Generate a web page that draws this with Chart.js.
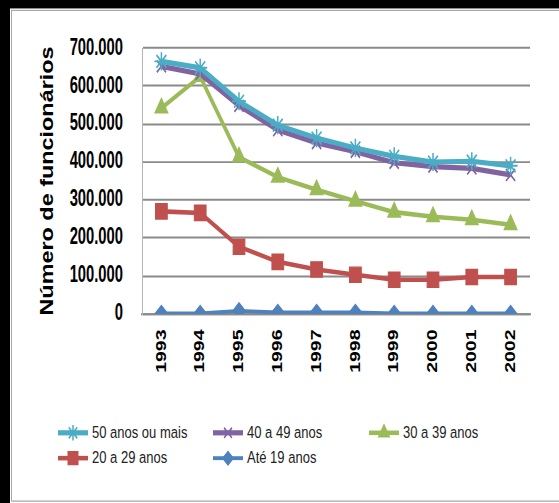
<!DOCTYPE html>
<html>
<head>
<meta charset="utf-8">
<script src="https://cdn.jsdelivr.net/npm/chart.js@4.4.1/dist/chart.umd.min.js"></script>
<style>
  html { overflow: hidden; background: #fff; }
  body { margin: 0; padding: 0; background: #fff; }
  #funcChart { display: block; background: #fff; }
</style>
</head>
<body>
<canvas id="funcChart" width="559" height="387"></canvas>
<script>
const years = ['1993', '1994', '1995', '1996', '1997', '1998', '1999', '2000', '2001', '2002'];
const seriesLabels = ['50 anos ou mais', '40 a 49 anos', '30 a 39 anos', '20 a 29 anos', 'Até 19 anos'];
const ages50plus = [665000, 648000, 560000, 497000, 463000, 437000, 415000, 400000, 402000, 390000];
const ages40to49 = [652000, 632000, 548000, 484000, 450000, 427000, 398000, 388000, 383000, 366000];
const ages30to39 = [542000, 625000, 413000, 360000, 327000, 297000, 268000, 256000, 248000, 235000];
const ages20to29 = [270000, 266000, 177000, 137000, 117000, 103000, 90000, 90000, 97000, 97000];
const agesTo19 = [1000, 1000, 8000, 4000, 4000, 4000, 1000, 1000, 1000, 1000];
const yTicks = [0, 100000, 200000, 300000, 400000, 500000, 600000, 700000];

const sansFont = '"Liberation Sans", Arial, sans-serif';
const outHeight = 503;   // the layout is done at 387 and drawn stretched to 503

function fmtThousands(v) {
    return String(v).replace(/\B(?=(\d{3})+(?!\d))/g, '.');
}

function makeSeries(label, data, color, style, radius, lineW) {
    return {
        label: label,
        data: data,
        borderColor: color,
        backgroundColor: color,
        borderWidth: lineW,
        pointStyle: style,
        pointRadius: radius,
        pointBorderWidth: (style === 'star' || style === 'crossRot') ? 1.5 : 1,
        pointBorderColor: color,
        pointBackgroundColor: color,
        tension: 0
    };
}

// white page with the black/grey frame
const framePlugin = {
    id: 'framePlugin',
    beforeDraw(chart) {
        const { ctx, width, height } = chart;
        ctx.save();
        ctx.fillStyle = '#fff';
        ctx.fillRect(0, 0, width, height);
        ctx.fillStyle = '#000';
        ctx.fillRect(0, 0, width, 6.5);
        ctx.fillRect(0, 0, 10, height);
        ctx.strokeStyle = '#a6a6a6';
        ctx.lineWidth = 1;
        ctx.beginPath();
        ctx.moveTo(11.5, height - 1.5);
        ctx.lineTo(11.5, 8);
        ctx.lineTo(width, 8);
        ctx.moveTo(11.5, height - 1.5);
        ctx.lineTo(width, height - 1.5);
        ctx.stroke();
        ctx.restore();
    }
};

// y tick labels in a narrow bold face (Arial Narrow look), placed by the y scale
const narrowTicksPlugin = {
    id: 'narrowTicksPlugin',
    afterDraw(chart) {
        const yScale = chart.scales.y;
        const ctx = chart.ctx;
        const squeeze = 0.82;
        const rightX = yScale.right - 19;
        ctx.save();
        ctx.font = 'bold 18px ' + sansFont;
        ctx.fillStyle = '#000';
        ctx.textAlign = 'right';
        ctx.textBaseline = 'middle';
        yScale.ticks.forEach(t => {
            const py = yScale.getPixelForValue(t.value);
            ctx.save();
            ctx.translate(rightX, py);
            ctx.scale(squeeze, 1);
            ctx.fillText(fmtThousands(t.value), 0, 0);
            ctx.restore();
        });
        ctx.restore();
    }
};

// excel-like legend: line with marker, 3 columns
const legendPlugin = {
    id: 'legendPlugin',
    afterDraw(chart) {
        const ctx = chart.ctx;
        const cols = [58, 213, 369];
        const rows = [333, 352.5];
        ctx.save();
        ctx.font = '13px ' + sansFont;
        ctx.textBaseline = 'middle';
        chart.data.datasets.forEach((ds, i) => {
            const x = cols[i % 3];
            const y = rows[Math.floor(i / 3)];
            ctx.strokeStyle = ds.borderColor;
            ctx.lineWidth = ds.borderWidth;
            ctx.beginPath();
            ctx.moveTo(x, y);
            ctx.lineTo(x + 30, y);
            ctx.stroke();
            ctx.fillStyle = ds.pointBackgroundColor;
            ctx.strokeStyle = ds.pointBorderColor;
            ctx.lineWidth = ds.pointBorderWidth;
            Chart.helpers.drawPoint(ctx, {
                pointStyle: ds.pointStyle,
                radius: ds.pointRadius * 0.85,
                borderWidth: ds.pointBorderWidth,
                rotation: 0
            }, x + 15, y);
            ctx.fillStyle = '#222';
            ctx.fillText(ds.label, x + 34, y + 0.5);
        });
        ctx.restore();
    }
};

const canvas = document.getElementById('funcChart');
// software canvas
const ctx = canvas.getContext('2d', { willReadFrequently: true, alpha: false });
const chart = new Chart(ctx, {
    type: 'line',
    data: {
        labels: years,
        datasets: [
            makeSeries(seriesLabels[0], ages50plus, '#4BACC6', 'star', 7, 4),
            makeSeries(seriesLabels[1], ages40to49, '#8064A2', 'crossRot', 6.5, 4),
            makeSeries(seriesLabels[2], ages30to39, '#9BBB59', 'triangle', 7.5, 3.5),
            makeSeries(seriesLabels[3], ages20to29, '#C0504D', 'rect', 8.3, 3.5),
            makeSeries(seriesLabels[4], agesTo19, '#4F81BD', 'rectRot', 6.2, 3)
        ]
    },
    options: {
        responsive: false,
        devicePixelRatio: 1,
        animation: false,
        events: [],
        layout: { padding: { left: 12, right: 29, top: 37, bottom: 95.5 } },
        plugins: {
            legend: { display: false },
            tooltip: { enabled: false }
        },
        scales: {
            x: {
                offset: true,
                grid: { display: false, drawTicks: false },
                border: { display: true, color: '#8a8a8a', width: 1.5 },
                ticks: {
                    autoSkip: false,
                    minRotation: 90,
                    maxRotation: 90,
                    padding: 12,
                    color: '#000',
                    font: { family: sansFont, size: 15, weight: 'bold' }
                },
                afterFit(scale) { scale.height = 50; }
            },
            y: {
                min: yTicks[0],
                max: yTicks[yTicks.length - 1],
                afterBuildTicks(scale) { scale.ticks = yTicks.map(v => ({ value: v })); },
                ticks: { display: false },
                grid: { color: '#8a8a8a', lineWidth: 1.5, drawTicks: false },
                border: { display: true, color: '#b5b5b5', width: 1 },
                title: {
                    display: true,
                    text: 'Número de funcionários',
                    color: '#000',
                    font: { family: sansFont, size: 18, weight: 'bold' },
                    padding: { top: 25, bottom: 0 }
                },
                afterFit(scale) { scale.width = 130; }
            }
        }
    },
    plugins: [framePlugin, narrowTicksPlugin, legendPlugin]
});

// redraw into a taller bitmap with a vertical stretch (no css scaling)
canvas.height = outHeight;
canvas.style.height = outHeight + 'px';
ctx.setTransform(1, 0, 0, outHeight / chart.height, 0, 0);
chart.draw();
</script>
</body>
</html>
